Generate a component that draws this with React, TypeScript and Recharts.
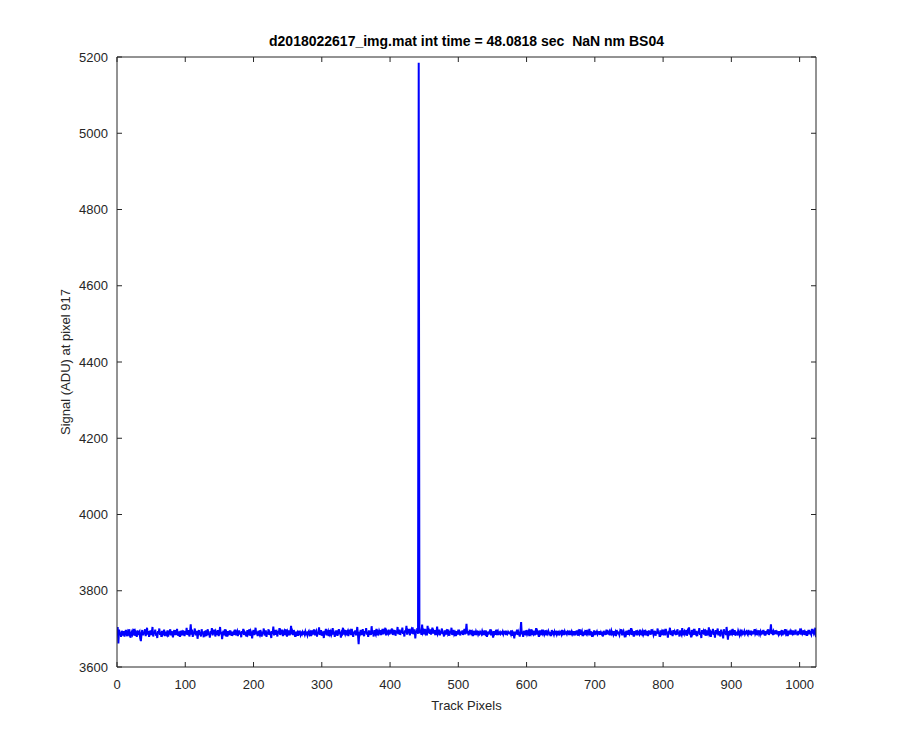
import { Line, LineChart, XAxis, YAxis } from "recharts";

const TITLE = "d2018022617_img.mat int time = 48.0818 sec \u00a0NaN nm BS04";
const X_LABEL = "Track Pixels";
const Y_LABEL = "Signal (ADU) at pixel 917";
const X_TICKS = [0, 100, 200, 300, 400, 500, 600, 700, 800, 900, 1000];
const Y_TICKS = [3600, 3800, 4000, 4200, 4400, 4600, 4800, 5000, 5200];

// signal per track pixel in blocks of 128 pixels
const signal1 = [
  3705, 3662, 3698, 3684, 3691, 3679, 3695, 3688, 3683, 3694, 3680, 3690, 3697, 3686, 3681, 3692,
  3688, 3699, 3683, 3677, 3690, 3694, 3685, 3689, 3700, 3682, 3692, 3687, 3679, 3696, 3684, 3690,
  3693, 3675, 3668, 3689, 3697, 3683, 3692, 3686, 3699, 3681, 3690, 3703, 3685, 3694, 3679, 3688,
  3696, 3684, 3691, 3705, 3680, 3693, 3687, 3698, 3682, 3690, 3676, 3694, 3688, 3701, 3684, 3692,
  3679, 3695, 3686, 3690, 3698, 3681, 3693, 3687, 3684, 3696, 3680, 3691, 3689, 3699, 3683, 3694,
  3686, 3678, 3692, 3697, 3684, 3690, 3685, 3700, 3682, 3693, 3688, 3679, 3695, 3687, 3691, 3683,
  3696, 3689, 3681, 3694, 3686, 3703, 3684, 3690, 3697, 3680, 3692, 3712, 3685, 3698, 3679, 3693,
  3687, 3701, 3683, 3690, 3695, 3674, 3689, 3697, 3684, 3692, 3680, 3699, 3686, 3691, 3678, 3694,
];
const signal2 = [
  3688, 3696, 3681, 3692, 3699, 3684, 3690, 3677, 3694, 3687, 3702, 3683, 3691, 3686, 3698, 3680,
  3693, 3689, 3684, 3697, 3681, 3690, 3705, 3686, 3692, 3673, 3688, 3695, 3683, 3699, 3687, 3691,
  3680, 3694, 3686, 3690, 3684, 3696, 3689, 3682, 3693, 3687, 3691, 3685, 3698, 3683, 3690, 3694,
  3681, 3689, 3696, 3685, 3692, 3678, 3694, 3688, 3700, 3684, 3691, 3687, 3693, 3680, 3697, 3686,
  3690, 3699, 3682, 3693, 3688, 3675, 3691, 3697, 3684, 3690, 3703, 3686, 3692, 3681, 3695, 3688,
  3684, 3697, 3690, 3680, 3693, 3687, 3701, 3683, 3689, 3696, 3679, 3692, 3686, 3699, 3684, 3691,
  3688, 3676, 3694, 3687, 3706, 3683, 3691, 3697, 3685, 3690, 3680, 3695, 3688, 3702, 3684, 3692,
  3686, 3698, 3681, 3690, 3694, 3684, 3699, 3687, 3680, 3693, 3689, 3696, 3683, 3691, 3708, 3686,
];
const signal3 = [
  3692, 3684, 3697, 3688, 3679, 3693, 3686, 3690, 3682, 3695, 3688, 3691, 3684, 3689, 3686, 3692,
  3688, 3690, 3685, 3693, 3687, 3689, 3683, 3691, 3694, 3686, 3690, 3681, 3696, 3688, 3692, 3685,
  3699, 3683, 3690, 3694, 3680, 3692, 3687, 3704, 3684, 3691, 3697, 3682, 3693, 3688, 3676, 3695,
  3686, 3700, 3683, 3690, 3694, 3681, 3697, 3687, 3692, 3684, 3689, 3702, 3685, 3693, 3679, 3691,
  3688, 3696, 3682, 3690, 3699, 3686, 3693, 3677, 3691, 3688, 3703, 3685, 3692, 3687, 3697, 3683,
  3690, 3694, 3681, 3698, 3686, 3692, 3684, 3700, 3688, 3679, 3693, 3687, 3696, 3683, 3690, 3705,
  3685, 3660, 3692, 3688, 3697, 3684, 3691, 3699, 3686, 3681, 3694, 3689, 3702, 3685, 3692, 3679,
  3696, 3688, 3691, 3684, 3707, 3687, 3693, 3680, 3697, 3689, 3685, 3700, 3683, 3692, 3688, 3695,
];
const signal4 = [
  3690, 3697, 3684, 3692, 3700, 3686, 3693, 3688, 3703, 3683, 3694, 3690, 3687, 3698, 3685, 3692,
  3695, 3688, 3701, 3684, 3693, 3690, 3697, 3682, 3694, 3689, 3705, 3686, 3692, 3698, 3684, 3695,
  3690, 3703, 3687, 3693, 3680, 3696, 3691, 3708, 3685, 3694, 3689, 3700, 3683, 3692, 3697, 3688,
  3704, 3686, 3693, 3699, 3675, 3695, 3690, 3702, 3687, 5185, 3706, 3688, 3697, 3684, 3711, 3690,
  3694, 3686, 3700, 3689, 3693, 3683, 3708, 3690, 3695, 3687, 3699, 3685, 3692, 3703, 3688, 3694,
  3690, 3697, 3684, 3693, 3706, 3687, 3691, 3698, 3683, 3694, 3688, 3701, 3686, 3692, 3680, 3696,
  3689, 3693, 3685, 3699, 3687, 3691, 3682, 3695, 3688, 3703, 3684, 3692, 3697, 3686, 3690, 3681,
  3694, 3688, 3692, 3685, 3698, 3689, 3683, 3693, 3687, 3696, 3684, 3691, 3700, 3686, 3693, 3713,
];
const signal5 = [
  3688, 3694, 3683, 3691, 3686, 3697, 3689, 3692, 3681, 3695, 3687, 3690, 3684, 3693, 3688, 3691,
  3685, 3690, 3687, 3692, 3689, 3686, 3694, 3688, 3691, 3684, 3696, 3687, 3690, 3679, 3693, 3688,
  3691, 3686, 3699, 3683, 3692, 3688, 3677, 3694, 3687, 3691, 3685, 3698, 3689, 3693, 3684, 3690,
  3692, 3687, 3690, 3688, 3693, 3686, 3691, 3689, 3695, 3684, 3690, 3687, 3692, 3689, 3688, 3691,
  3686, 3696, 3682, 3691, 3688, 3675, 3693, 3687, 3690, 3698, 3684, 3692, 3687, 3680, 3694, 3718,
  3686, 3692, 3679, 3695, 3688, 3691, 3683, 3697, 3686, 3690, 3694, 3681, 3692, 3688, 3699, 3684,
  3691, 3687, 3695, 3683, 3690, 3702, 3685, 3693, 3688, 3679, 3696, 3687, 3691, 3684, 3698, 3688,
  3692, 3685, 3690, 3696, 3683, 3691, 3687, 3694, 3689, 3686, 3692, 3681, 3697, 3688, 3690, 3685,
];
const signal6 = [
  3693, 3688, 3691, 3686, 3695, 3683, 3690, 3687, 3692, 3689, 3685, 3697, 3688, 3691, 3684, 3693,
  3688, 3690, 3686, 3692, 3689, 3695, 3684, 3691, 3688, 3693, 3686, 3690, 3687, 3694, 3683, 3691,
  3689, 3696, 3682, 3692, 3688, 3699, 3685, 3690, 3694, 3681, 3693, 3687, 3691, 3684, 3697, 3688,
  3692, 3686, 3690, 3700, 3683, 3694, 3688, 3679, 3692, 3687, 3696, 3684, 3691, 3689, 3693, 3686,
  3690, 3688, 3694, 3685, 3691, 3687, 3692, 3680, 3695, 3688, 3690, 3684, 3698, 3686, 3692, 3689,
  3693, 3683, 3691, 3696, 3687, 3690, 3685, 3694, 3688, 3692, 3681, 3697, 3686, 3691, 3689, 3684,
  3693, 3688, 3699, 3683, 3690, 3694, 3686, 3692, 3678, 3695, 3688, 3691, 3685, 3697, 3687, 3690,
  3702, 3684, 3693, 3688, 3680, 3694, 3687, 3691, 3696, 3683, 3692, 3689, 3686, 3698, 3684, 3691,
];
const signal7 = [
  3687, 3693, 3685, 3690, 3697, 3683, 3692, 3688, 3694, 3681, 3696, 3689, 3691, 3685, 3699, 3687,
  3692, 3684, 3690, 3695, 3682, 3693, 3688, 3701, 3686, 3691, 3679, 3696, 3687, 3692, 3684, 3698,
  3689, 3693, 3683, 3700, 3686, 3691, 3677, 3695, 3688, 3703, 3684, 3692, 3689, 3681, 3697, 3686,
  3693, 3688, 3691, 3684, 3699, 3687, 3692, 3680, 3696, 3689, 3685, 3702, 3683, 3691, 3694, 3686,
  3690, 3697, 3682, 3693, 3688, 3704, 3685, 3691, 3678, 3697, 3687, 3692, 3684, 3700, 3689, 3686,
  3695, 3681, 3693, 3688, 3702, 3684, 3691, 3676, 3697, 3687, 3693, 3685, 3699, 3682, 3692, 3688,
  3696, 3683, 3704, 3687, 3691, 3679, 3695, 3688, 3700, 3684, 3693, 3677, 3697, 3686, 3692, 3701,
  3683, 3694, 3688, 3680, 3698, 3686, 3692, 3675, 3699, 3687, 3693, 3684, 3705, 3688, 3672, 3694,
];
const signal8 = [
  3689, 3696, 3683, 3692, 3688, 3700, 3685, 3691, 3697, 3682, 3693, 3688, 3686, 3695, 3690, 3684,
  3692, 3687, 3698, 3683, 3691, 3689, 3694, 3686, 3690, 3693, 3688, 3685, 3697, 3689, 3691, 3684,
  3695, 3687, 3690, 3692, 3686, 3699, 3688, 3693, 3684, 3691, 3687, 3696, 3690, 3685, 3693, 3688,
  3691, 3686, 3697, 3689, 3683, 3694, 3688, 3692, 3687, 3699, 3684, 3690, 3695, 3712, 3687, 3691,
  3684, 3693, 3688, 3690, 3696, 3686, 3692, 3689, 3685, 3694, 3688, 3691, 3687, 3697, 3683, 3690,
  3693, 3686, 3699, 3688, 3692, 3681, 3695, 3687, 3690, 3694, 3685, 3692, 3688, 3696, 3684, 3691,
  3689, 3698, 3686, 3692, 3683, 3695, 3688, 3690, 3701, 3685, 3693, 3687, 3691, 3696, 3684, 3692,
  3688, 3694, 3682, 3690, 3697, 3686, 3692, 3689, 3685, 3700, 3688, 3693, 3687, 3691, 3703, 3678,
];

const signal = [
  ...signal1, ...signal2, ...signal3, ...signal4,
  ...signal5, ...signal6, ...signal7, ...signal8,
];
const data = signal.map((v, i) => ({ pixel: i + 1, signal: v }));

const FONT = "'Liberation Sans', Arial, Helvetica, sans-serif";
const AXIS = "#262626";
const TICK_LEN = 5;

// MATLAB-style ticks: short marks pointing into the plot box
const BottomTick = (props: any) => {
  const { x, y, payload } = props;
  return (
    <g>
      <line x1={x} y1={y} x2={x} y2={y - TICK_LEN} stroke={AXIS} />
      <text x={x} y={y + 22} textAnchor="middle" fill={AXIS} fontSize={13} fontFamily={FONT}>
        {payload.value}
      </text>
    </g>
  );
};
const TopTick = (props: any) => {
  const { x, y } = props;
  return <line x1={x} y1={y} x2={x} y2={y + TICK_LEN} stroke={AXIS} />;
};
const LeftTick = (props: any) => {
  const { x, y, payload } = props;
  return (
    <g>
      <line x1={x} y1={y} x2={x + TICK_LEN} y2={y} stroke={AXIS} />
      <text x={x - 9} y={y + 4.5} textAnchor="end" fill={AXIS} fontSize={13} fontFamily={FONT}>
        {payload.value}
      </text>
    </g>
  );
};
const RightTick = (props: any) => {
  const { x, y } = props;
  return <line x1={x} y1={y} x2={x - TICK_LEN} y2={y} stroke={AXIS} />;
};

export default function App() {
  return (
    <LineChart
      width={892}
      height={742}
      data={data}
      margin={{ top: 48, right: 83, bottom: 33, left: 49 }}
      style={{ fontFamily: FONT }}
    >
      <XAxis
        dataKey="pixel"
        type="number"
        domain={[0, 1024]}
        ticks={X_TICKS}
        allowDataOverflow
        height={50}
        stroke={AXIS}
        tickLine={false}
        tickSize={0}
        tickMargin={0}
        tick={<BottomTick />}
        label={{ value: X_LABEL, position: "insideBottom", offset: 7, fill: AXIS, fontSize: 13, fontFamily: FONT }}
      />
      <XAxis
        xAxisId="top"
        orientation="top"
        dataKey="pixel"
        type="number"
        domain={[0, 1024]}
        ticks={X_TICKS}
        allowDataOverflow
        height={1}
        stroke={AXIS}
        tickLine={false}
        tickSize={0}
        tickMargin={0}
        tick={<TopTick />}
        label={{
          value: TITLE,
          position: "top",
          offset: 10,
          fill: "#000",
          fontSize: 14,
          fontWeight: "bold",
          fontFamily: FONT,
          style: { whiteSpace: "pre" },
        }}
      />
      <YAxis
        type="number"
        domain={[3600, 5200]}
        ticks={Y_TICKS}
        allowDataOverflow
        width={60}
        stroke={AXIS}
        tickLine={false}
        tickSize={0}
        tickMargin={0}
        tick={<LeftTick />}
        label={{
          value: Y_LABEL,
          angle: -90,
          position: "insideLeft",
          offset: 8,
          fill: AXIS,
          fontSize: 13,
          fontFamily: FONT,
          style: { textAnchor: "middle" },
        }}
      />
      <YAxis
        yAxisId="right"
        orientation="right"
        type="number"
        domain={[3600, 5200]}
        ticks={Y_TICKS}
        allowDataOverflow
        width={1}
        stroke={AXIS}
        tickLine={false}
        tickSize={0}
        tickMargin={0}
        tick={<RightTick />}
      />
      <Line
        type="linear"
        dataKey="signal"
        stroke="#0000ff"
        strokeWidth={2}
        dot={false}
        isAnimationActive={false}
      />
    </LineChart>
  );
}
